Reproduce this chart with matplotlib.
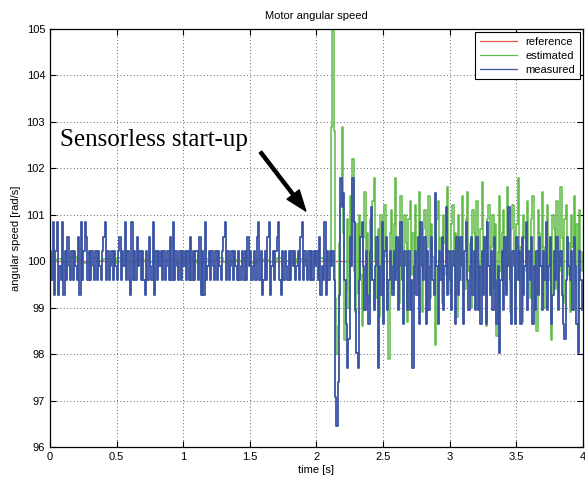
import numpy as np
import matplotlib
matplotlib.use('Agg')
import matplotlib.pyplot as plt

# sample time of the logged signals
dt = 0.01

# measured speed (encoder, quantized), 0.00 .. 3.99 s
measured = [
    100.22, 99.59, 100.85, 99.27, 100.22, 100.85, 99.27, 99.90, 99.59, 100.85,
    99.27, 100.22, 99.59, 100.53, 99.90, 99.59, 100.22, 99.59, 100.22, 99.90,
    99.59, 100.53, 99.27, 100.85, 99.59, 100.22, 100.85, 100.53, 99.59, 100.22,
    99.59, 100.22, 99.90, 99.59, 100.22, 99.59, 100.22, 99.90, 99.59, 100.22,
    100.53, 100.85, 99.59, 100.22, 99.59, 99.90, 100.22, 99.59, 100.22, 99.90,
    99.59, 100.22, 100.53, 99.59, 100.22, 99.90, 100.85, 99.59, 100.22, 99.59,
    99.27, 100.85, 99.59, 100.22, 99.59, 100.53, 99.90, 100.22, 99.59, 100.22,
    99.59, 99.27, 100.22, 99.59, 100.53, 99.90, 99.59, 100.85, 99.27, 100.22,
    99.59, 100.22, 99.90, 100.22, 99.59, 100.22, 99.59, 99.90, 100.22, 99.59,
    100.53, 99.59, 100.85, 99.59, 100.22, 99.90, 99.59, 100.22, 99.59, 100.22,
    99.90, 100.22, 99.59, 100.22, 99.59, 100.53, 99.59, 100.22, 99.59, 100.22,
    100.22, 99.59, 100.53, 99.27, 100.22, 99.27, 100.85, 99.59, 99.90, 100.22,
    99.59, 100.22, 99.90, 99.59, 100.22, 99.59, 100.22, 99.90, 99.59, 100.22,
    100.53, 100.85, 99.59, 100.22, 99.59, 99.90, 100.22, 99.59, 100.22, 99.90,
    99.59, 100.22, 99.59, 99.90, 100.22, 99.59, 100.22, 99.59, 100.53, 99.90,
    100.22, 99.59, 99.90, 100.22, 99.59, 100.53, 100.85, 99.59, 100.22, 99.27,
    99.59, 100.22, 99.59, 100.53, 100.85, 99.27, 99.90, 100.22, 99.59, 100.22,
    100.53, 100.85, 99.59, 99.27, 100.22, 99.59, 100.22, 99.90, 99.59, 100.22,
    99.59, 100.22, 99.90, 100.22, 99.59, 99.90, 100.22, 99.59, 100.53, 100.85,
    99.59, 100.22, 99.90, 99.59, 100.22, 99.59, 100.22, 99.59, 100.22, 99.90,
    100.22, 99.59, 100.53, 99.27, 99.90, 99.59, 100.85, 99.27, 100.22, 99.59,
    # sensorless start-up at 2.1 s
    100.22, 99.90, 100.22, 99.59, 97.08, 96.45, 97.39, 99.27, 101.79, 101.16,
    101.47, 99.59, 98.65, 97.70, 98.33, 100.53, 99.90, 101.79, 100.85, 98.96,
    98.02, 97.70, 99.59, 100.53, 100.85, 99.90, 98.96, 100.22, 99.27, 98.65,
    100.22, 101.16, 99.59, 98.96, 99.90, 100.53, 97.70, 99.90, 99.27, 100.85,
    98.65, 100.22, 100.53, 98.96, 99.59, 100.22, 99.90, 99.27, 100.22, 99.59,
    100.53, 98.96, 99.90, 100.85, 99.59, 98.65, 100.22, 99.90, 98.96, 100.22,
    98.96, 99.59, 97.70, 99.90, 100.22, 99.27, 100.53, 98.65, 100.85, 99.90,
    99.59, 100.53, 98.65, 100.22, 98.96, 99.90, 100.53, 99.59, 99.27, 101.47,
    99.90, 98.65, 100.22, 99.59, 100.53, 98.96, 99.90, 101.16, 99.27, 100.22,
    99.59, 98.96, 100.22, 99.90, 98.65, 100.53, 99.27, 99.59, 100.53, 99.90,
    98.65, 100.22, 100.85, 99.59, 98.96, 99.90, 100.53, 99.27, 100.22, 98.96,
    100.53, 98.96, 99.90, 98.65, 100.22, 99.27, 100.53, 98.65, 100.85, 99.90,
    99.27, 100.22, 98.96, 100.53, 99.59, 98.65, 99.90, 98.02, 99.59, 100.22,
    98.96, 100.53, 99.27, 99.90, 101.16, 99.59, 98.65, 100.22, 99.90, 98.65,
    100.53, 99.59, 100.22, 98.65, 100.53, 99.27, 99.90, 100.85, 98.96, 100.22,
    99.59, 100.53, 98.65, 99.90, 98.96, 100.22, 99.27, 100.53, 99.90, 98.96,
    100.22, 99.59, 100.85, 98.96, 99.90, 100.53, 98.65, 99.27, 100.22, 99.59,
    100.53, 98.96, 99.90, 100.22, 99.27, 98.65, 98.33, 99.59, 100.53, 99.90,
    99.59, 100.22, 98.96, 100.53, 99.90, 98.65, 98.02, 100.22, 99.59, 98.96,
]

# estimated speed before start-up (0.00 .. 2.05 s, every 0.05 s)
estimated_pre = [
    100.00, 100.05, 99.98, 100.08, 100.02, 99.96, 100.06, 100.00, 100.04, 99.97,
    100.07, 100.01, 99.95, 100.05, 100.03, 99.98, 100.08, 100.00, 100.04, 99.96,
    100.06, 100.02, 99.97, 100.05, 100.01, 100.07, 99.98, 100.03, 100.00, 100.06,
    99.96, 100.04, 100.02, 99.98, 100.07, 100.01, 99.97, 100.05, 100.03, 100.00,
    100.06, 100.02,
]

# estimated speed after start-up (2.10 .. 3.99 s)
estimated_post = [
    100.1, 102.9, 105.0, 102.8, 99.2, 98.0, 98.6, 100.4, 101.2, 102.9,
    100.6, 98.3, 99.4, 100.9, 99.0, 101.4, 100.2, 102.2, 99.8, 98.9,
    100.8, 99.3, 101.0, 99.7, 98.6, 100.5, 101.5, 99.9, 100.6, 99.1,
    100.9, 99.6, 101.3, 101.8, 100.0, 99.2, 100.7, 98.8, 101.0, 100.3,
    99.5, 101.2, 100.1, 99.0, 97.9, 100.6, 101.1, 99.4, 100.8, 101.8,
    99.8, 100.5, 99.1, 101.4, 100.2, 99.6, 101.0, 100.4, 98.7, 100.9,
    101.3, 99.7, 100.6, 99.3, 101.2, 100.0, 99.5, 101.5, 100.2, 98.9,
    100.7, 101.1, 99.6, 100.3, 101.4, 99.2, 100.8, 100.1, 99.4, 98.2,
    100.9, 101.3, 99.8, 100.5, 99.1, 101.0, 100.4, 99.7, 101.6, 100.2,
    99.3, 100.8, 101.2, 99.9, 100.6, 98.8, 101.0, 100.3, 99.6, 101.4,
    100.1, 99.4, 100.9, 101.5, 99.8, 100.4, 99.0, 101.1, 100.6, 99.5,
    101.3, 100.0, 99.2, 100.7, 101.7, 99.9, 100.5, 98.6, 100.9, 101.2,
    99.7, 100.3, 101.0, 99.4, 100.8, 98.4, 100.2, 101.4, 99.8, 100.6,
    101.1, 99.5, 100.4, 101.6, 99.9, 98.9, 100.7, 101.2, 100.0, 99.3,
    100.8, 101.8, 99.6, 100.3, 98.7, 101.0, 100.5, 99.8, 101.3, 100.1,
    99.2, 100.9, 101.4, 99.7, 100.2, 98.5, 101.1, 100.6, 99.9, 101.5,
    100.3, 99.0, 100.8, 101.2, 99.6, 100.4, 98.3, 101.0, 100.7, 99.4,
    101.3, 100.1, 99.8, 101.6, 100.5, 99.1, 100.9, 101.2, 99.7, 100.4,
    98.9, 101.0, 100.3, 101.4, 99.5, 100.8, 98.6, 101.1, 100.2, 99.8,
]

# reference speed
reference_time = [0, 4]
reference = [100, 100]

x_ticks = [0, 0.5, 1, 1.5, 2, 2.5, 3, 3.5, 4]
x_tick_labels = ['0', '0.5', '1', '1.5', '2', '2.5', '3', '3.5', '4']
y_ticks = [96, 97, 98, 99, 100, 101, 102, 103, 104, 105]

t_meas = np.arange(len(measured)) * dt
t_est_pre = np.arange(len(estimated_pre)) * 0.05
t_est_post = 2.10 + np.arange(len(estimated_post)) * dt
t_est = np.concatenate([t_est_pre, t_est_post])
estimated = np.concatenate([estimated_pre, estimated_post])

plt.rcParams['font.family'] = ['Liberation Sans', 'DejaVu Sans']

fig = plt.figure(figsize=(5.85, 4.79), dpi=100)
ax = fig.add_axes([0.0855, 0.0668, 0.911, 0.8727])

ax.plot(reference_time, reference, color='#e05a4e', lw=0.9, label='reference')
ax.plot(t_est, estimated, color='#5fba46', lw=1.1, drawstyle='steps-post', label='estimated')
ax.plot(t_meas, measured, color='#3a54a5', lw=1.3, drawstyle='steps-post', label='measured')

ax.set_xlim(0, 4)
ax.set_ylim(96, 105)
ax.set_xticks(x_ticks)
ax.set_xticklabels(x_tick_labels)
ax.set_yticks(y_ticks)
ax.tick_params(direction='in', top=True, right=True, labelsize=8, length=4, width=0.8)
for s in ax.spines.values():
    s.set_linewidth(0.9)

ax.grid(True, color='#333333', linestyle=(0, (1, 3)), linewidth=0.6)

ax.set_title('Motor angular speed', fontsize=8, pad=7)
ax.set_xlabel('time [s]', fontsize=8, labelpad=2)
ax.set_ylabel('angular speed [rad/s]', fontsize=8, labelpad=4)

leg = ax.legend(loc='upper right', fontsize=8, fancybox=False, framealpha=1,
                edgecolor='black', handlelength=3.3, borderaxespad=0.3,
                labelspacing=0.35, borderpad=0.4)
leg.get_frame().set_linewidth(0.8)
for line in leg.get_lines():
    line.set_linewidth(0.9)

# annotation for the start-up instant
ax.text(0.075, 102.48, 'Sensorless start-up', fontsize=18,
        family='Liberation Serif', va='baseline', ha='left')
ax.annotate('', xy=(1.92, 101.08), xytext=(1.58, 102.35),
            arrowprops=dict(facecolor='black', edgecolor='black', width=2.2,
                            headwidth=11, headlength=15, shrink=0))

fig.savefig('out.png', dpi=100)
